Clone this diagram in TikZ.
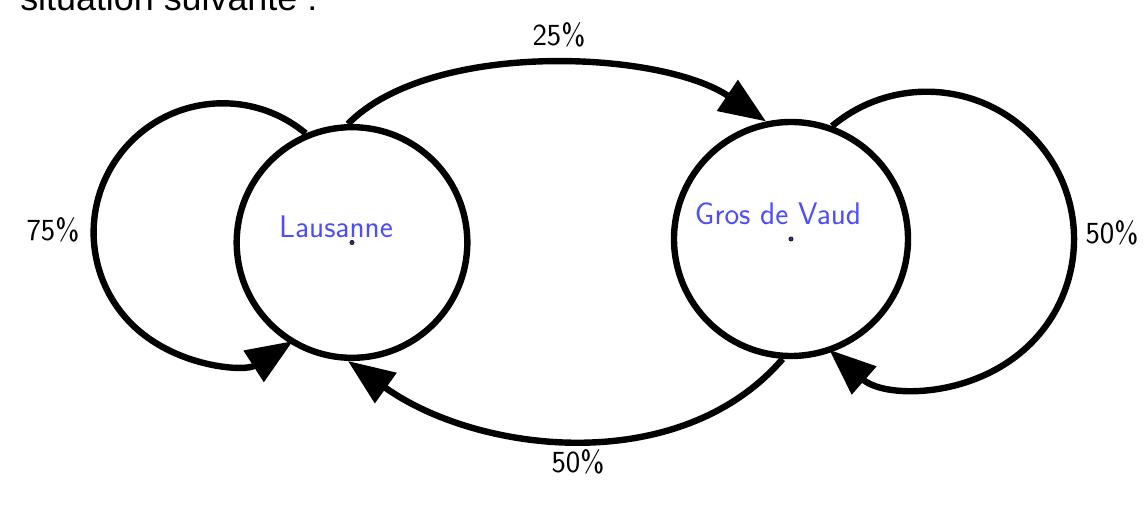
\documentclass[tikz,border=0pt]{standalone}
\usepackage{fontspec}
\newfontfamily\headfont{Liberation Sans}
\usetikzlibrary{arrows.meta}
\definecolor{labblue}{RGB}{77,77,255}
\tikzset{
  state/.style={circle, draw=black, line width=4.8pt, inner sep=0pt},
  conn/.style={line width=4.8pt, -{Triangle[length=35pt,width=27pt]}},
  pct/.style={font=\sffamily\fontsize{23}{27}\selectfont, text=black},
  cityname/.style={font=\sffamily\fontsize{23.4}{28}\selectfont, text=labblue},
  centerdot/.style={fill=labblue!60!black, draw=black, line width=0.4pt}
}
\begin{document}
\begin{tikzpicture}[x=0.75pt,y=0.75pt]
\useasboundingbox (0,0) rectangle (1146,510);
% heading (cut off at the top)
\node[anchor=base west, inner sep=0pt, font=\headfont\fontsize{26.9}{32}\selectfont] (head) at (20,499) {situation suivante :};
% states
\node[state, minimum size=173pt] (L) at (352,267.5) {};
\node[state, minimum size=175.5pt] (G) at (791,271) {};
\fill[centerdot] (L.center) circle[radius=1.6pt];
\fill[centerdot] (G.center) circle[radius=1.6pt];
\node[cityname] (Lname) at (336,283) {Lausanne};
\node[cityname] (Gname) at (778,296) {Gros de Vaud};
% connectors
\draw[conn] (L.92) .. controls (430,470) and (660,460) .. (G.102);
\draw[conn] (G.266) .. controls (680,32) and (478,56) .. (L.268);
\draw[conn] (L.113) arc[start angle=50.1, end angle=302.8, radius=96.9pt];
\draw[conn] (G.70) arc[start angle=129.9, end angle=-131.4, radius=110.55pt];
% labels
\node[pct] (p25) at (559,475) {25\%};
\node[pct] (p75) at (53,280) {75\%};
\node[pct] (p50r) at (1112,277) {50\%};
\node[pct] (p50b) at (578,48) {50\%};
\end{tikzpicture}
\end{document}
